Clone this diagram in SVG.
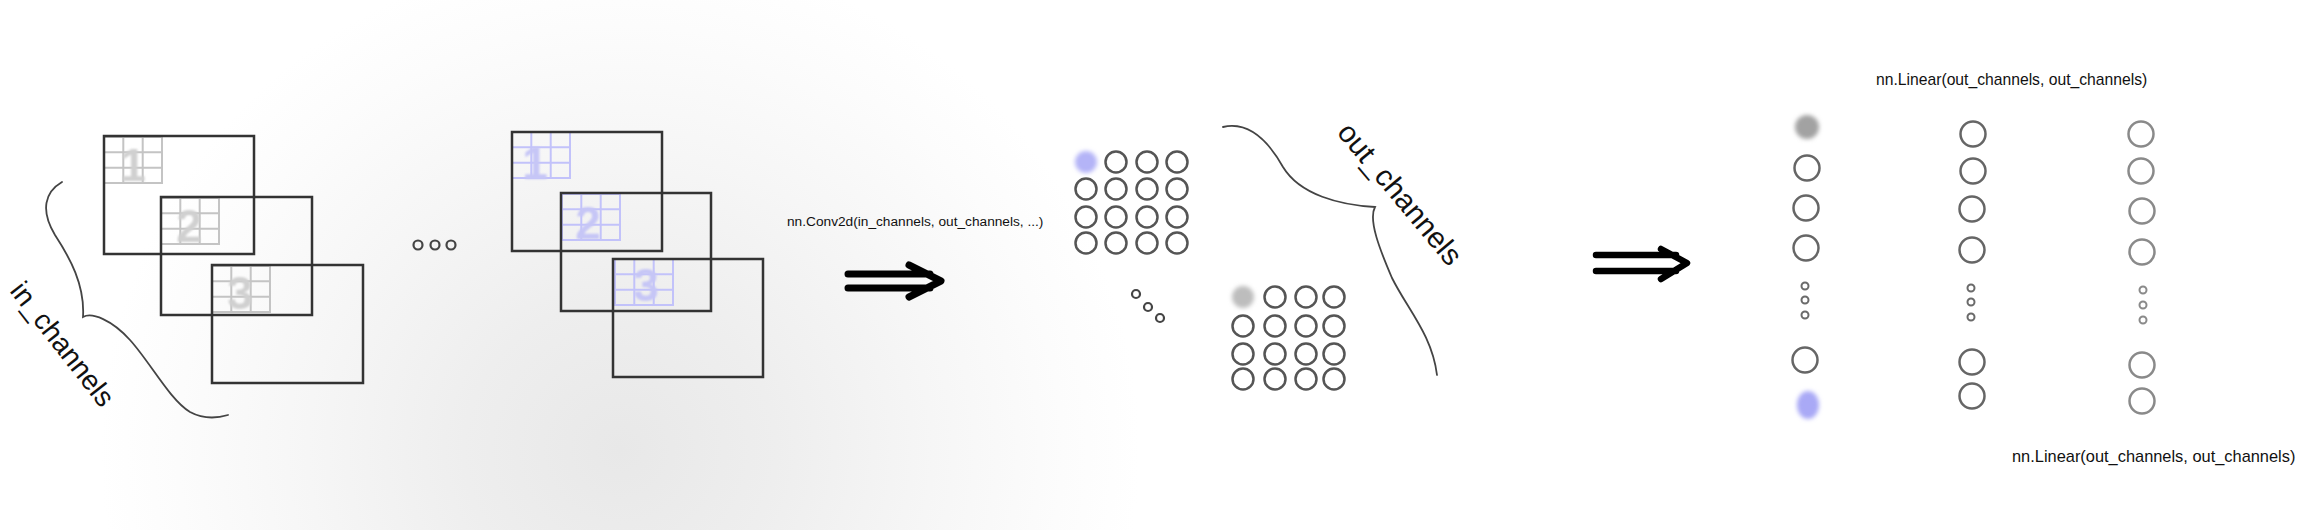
<svg xmlns="http://www.w3.org/2000/svg" width="2315" height="530" viewBox="0 0 2315 530">
<defs>
<radialGradient id="bg" cx="0" cy="0" r="1" gradientUnits="userSpaceOnUse" gradientTransform="translate(620 450) scale(520 500)">
<stop offset="0" stop-color="#e8e8e8"/>
<stop offset="0.3" stop-color="#eeeeee"/>
<stop offset="0.6" stop-color="#f6f6f6"/>
<stop offset="0.85" stop-color="#fcfcfc"/>
<stop offset="1" stop-color="#ffffff"/>
</radialGradient>
<filter id="blur" x="-50%" y="-50%" width="200%" height="200%"><feGaussianBlur stdDeviation="2.2"/></filter>
<filter id="soft" x="-20%" y="-20%" width="140%" height="140%"><feGaussianBlur stdDeviation="0.9"/></filter>
<g id="gridG"><rect x="0" y="0" width="58" height="46"/><path d="M19.3,0V46M38.7,0V46M0,15.3H58M0,30.7H58"/></g>
</defs>
<style>
.frame{fill:none;stroke:#333;stroke-width:2.5}
.gg{fill:none;stroke:#c4c4c4;stroke-width:2}
.gb{fill:none;stroke:#c2c2fa;stroke-width:2}
.dg{font-family:"Liberation Sans",Arial,sans-serif;font-weight:bold;font-size:46px;fill:#d0d0d0;text-anchor:middle}
.db{font-family:"Liberation Sans",Arial,sans-serif;font-weight:bold;font-size:46px;fill:#c6c6f6;text-anchor:middle}
.lbl{font-family:"Liberation Sans",Arial,sans-serif;fill:#111}
.brace{fill:none;stroke:#444;stroke-width:1.8;stroke-linecap:round}
.oc{fill:none;stroke:#555;stroke-width:2.5}
.lc{fill:none;stroke:#666;stroke-width:2.5}
.lc3{fill:none;stroke:#8a8a8a;stroke-width:2.5}
.dot{fill:none;stroke:#444;stroke-width:2.2}
.sd{fill:none;stroke:#6a6a6a;stroke-width:2}
.arr{fill:none;stroke:#000;stroke-width:7;stroke-linecap:round;stroke-linejoin:round}
</style>
<rect width="2315" height="530" fill="#ffffff"/>
<rect width="2315" height="530" fill="url(#bg)"/>

<g id="input-channels">
<use href="#gridG" class="gg" x="104" y="137"/>
<text class="dg" x="133" y="181" filter="url(#soft)">1</text>
<rect class="frame" x="104" y="136" width="150" height="118"/>
<use href="#gridG" class="gg" x="161" y="198"/>
<text class="dg" x="189" y="242" filter="url(#soft)">2</text>
<rect class="frame" x="161" y="197" width="151" height="118"/>
<use href="#gridG" class="gg" x="212" y="266"/>
<text class="dg" x="240" y="309" filter="url(#soft)">3</text>
<rect class="frame" x="212" y="265" width="151" height="118"/>
<path class="brace" d="M62,182 C45,192 40,210 55,235 C70,258 85,285 83,317 C92,312 112,320 130,340 C150,362 170,400 190,412 C205,420 218,418 228,415"/>
<text class="lbl" x="9" y="291" font-size="28" transform="rotate(52 9 291)">in_channels</text>
</g>

<g id="ellipsis-1">
<circle class="dot" cx="418" cy="245" r="4.5"/>
<circle class="dot" cx="435" cy="245" r="4.5"/>
<circle class="dot" cx="451" cy="245" r="4.5"/>
</g>

<g id="input-channels-active">
<use href="#gridG" class="gb" x="512" y="132"/>
<text class="db" x="535" y="179" filter="url(#soft)">1</text>
<rect class="frame" x="512" y="132" width="150" height="119"/>
<use href="#gridG" class="gb" x="562" y="194"/>
<text class="db" x="588" y="239" filter="url(#soft)">2</text>
<rect class="frame" x="561" y="193" width="150" height="118"/>
<use href="#gridG" class="gb" x="615" y="259"/>
<text class="db" x="646" y="301" filter="url(#soft)">3</text>
<rect class="frame" x="613" y="259" width="150" height="118"/>
</g>

<g id="conv-arrow">
<text class="lbl" x="787" y="226" font-size="13.7">nn.Conv2d(in_channels, out_channels, ...)</text>
<path class="arr" d="M848,274 H930 M848,288 H930 M909,265 L941,281 L909,297"/>
</g>

<g id="output-map-1">
<circle cx="1086" cy="162" r="11" fill="#b4b4f7" filter="url(#blur)"/>
<circle class="oc" cx="1116" cy="162" r="10.5"/><circle class="oc" cx="1147" cy="162" r="10.5"/><circle class="oc" cx="1177" cy="162" r="10.5"/>
<circle class="oc" cx="1086" cy="189" r="10.5"/><circle class="oc" cx="1116" cy="189" r="10.5"/><circle class="oc" cx="1147" cy="189" r="10.5"/><circle class="oc" cx="1177" cy="189" r="10.5"/>
<circle class="oc" cx="1086" cy="217" r="10.5"/><circle class="oc" cx="1116" cy="217" r="10.5"/><circle class="oc" cx="1147" cy="217" r="10.5"/><circle class="oc" cx="1177" cy="217" r="10.5"/>
<circle class="oc" cx="1086" cy="243" r="10.5"/><circle class="oc" cx="1116" cy="243" r="10.5"/><circle class="oc" cx="1147" cy="243" r="10.5"/><circle class="oc" cx="1177" cy="243" r="10.5"/>
</g>

<g id="ellipsis-2">
<circle class="dot" cx="1136" cy="294" r="4"/>
<circle class="dot" cx="1148" cy="307" r="4"/>
<circle class="dot" cx="1160" cy="318" r="4"/>
</g>

<g id="output-map-n">
<circle cx="1243" cy="297" r="11" fill="#bdbdbd" filter="url(#blur)"/>
<circle class="oc" cx="1275" cy="297" r="10.5"/><circle class="oc" cx="1306" cy="297" r="10.5"/><circle class="oc" cx="1334" cy="297" r="10.5"/>
<circle class="oc" cx="1243" cy="326" r="10.5"/><circle class="oc" cx="1275" cy="326" r="10.5"/><circle class="oc" cx="1306" cy="326" r="10.5"/><circle class="oc" cx="1334" cy="326" r="10.5"/>
<circle class="oc" cx="1243" cy="354" r="10.5"/><circle class="oc" cx="1275" cy="354" r="10.5"/><circle class="oc" cx="1306" cy="354" r="10.5"/><circle class="oc" cx="1334" cy="354" r="10.5"/>
<circle class="oc" cx="1243" cy="379" r="10.5"/><circle class="oc" cx="1275" cy="379" r="10.5"/><circle class="oc" cx="1306" cy="379" r="10.5"/><circle class="oc" cx="1334" cy="379" r="10.5"/>
</g>

<g id="out-channels-brace">
<path class="brace" d="M1223,127 C1245,122 1265,135 1283,167 C1300,195 1340,205 1375,207 C1368,220 1380,250 1392,278 C1408,310 1432,335 1437,375"/>
<text class="lbl" x="1336" y="133" font-size="29.5" transform="rotate(50 1336 133)">out_channels</text>
</g>

<g id="linear-arrow">
<path class="arr" style="stroke-width:6.5" d="M1596,255 H1676 M1596,271 H1676 M1661,249 L1687,263 L1661,279"/>
</g>

<g id="linear-layer-1">
<circle cx="1807" cy="127" r="12" fill="#a2a2a2" filter="url(#blur)"/>
<circle class="lc" cx="1807" cy="168" r="12.5"/>
<circle class="lc" cx="1806" cy="208" r="12.5"/>
<circle class="lc" cx="1806" cy="248" r="12.5"/>
<circle class="sd" cx="1805" cy="286" r="3.5"/>
<circle class="sd" cx="1805" cy="300" r="3.5"/>
<circle class="sd" cx="1805" cy="315" r="3.5"/>
<circle class="lc" cx="1805" cy="360" r="12.5"/>
<ellipse cx="1808" cy="405" rx="11" ry="14" fill="#a9a9f6" filter="url(#blur)"/>
</g>

<g id="linear-layer-2">
<text class="lbl" x="1876" y="85" font-size="15.7">nn.Linear(out_channels, out_channels)</text>
<circle class="lc" cx="1973" cy="134" r="12.5"/>
<circle class="lc" cx="1973" cy="171" r="12.5"/>
<circle class="lc" cx="1972" cy="209" r="12.5"/>
<circle class="lc" cx="1972" cy="250" r="12.5"/>
<circle class="sd" cx="1971" cy="288" r="3.5"/>
<circle class="sd" cx="1971" cy="302" r="3.5"/>
<circle class="sd" cx="1971" cy="317" r="3.5"/>
<circle class="lc" cx="1972" cy="362" r="12.5"/>
<circle class="lc" cx="1972" cy="396" r="12.5"/>
</g>

<g id="linear-layer-3">
<text class="lbl" x="2012" y="462" font-size="16.4">nn.Linear(out_channels, out_channels)</text>
<circle class="lc3" cx="2141" cy="134" r="12.5"/>
<circle class="lc3" cx="2141" cy="171" r="12.5"/>
<circle class="lc3" cx="2142" cy="211" r="12.5"/>
<circle class="lc3" cx="2142" cy="252" r="12.5"/>
<circle class="sd" cx="2143" cy="290" r="3.5" style="stroke:#8a8a8a"/>
<circle class="sd" cx="2143" cy="305" r="3.5" style="stroke:#8a8a8a"/>
<circle class="sd" cx="2143" cy="320" r="3.5" style="stroke:#8a8a8a"/>
<circle class="lc3" cx="2142" cy="365" r="12.5"/>
<circle class="lc3" cx="2142" cy="401" r="12.5"/>
</g>
</svg>
